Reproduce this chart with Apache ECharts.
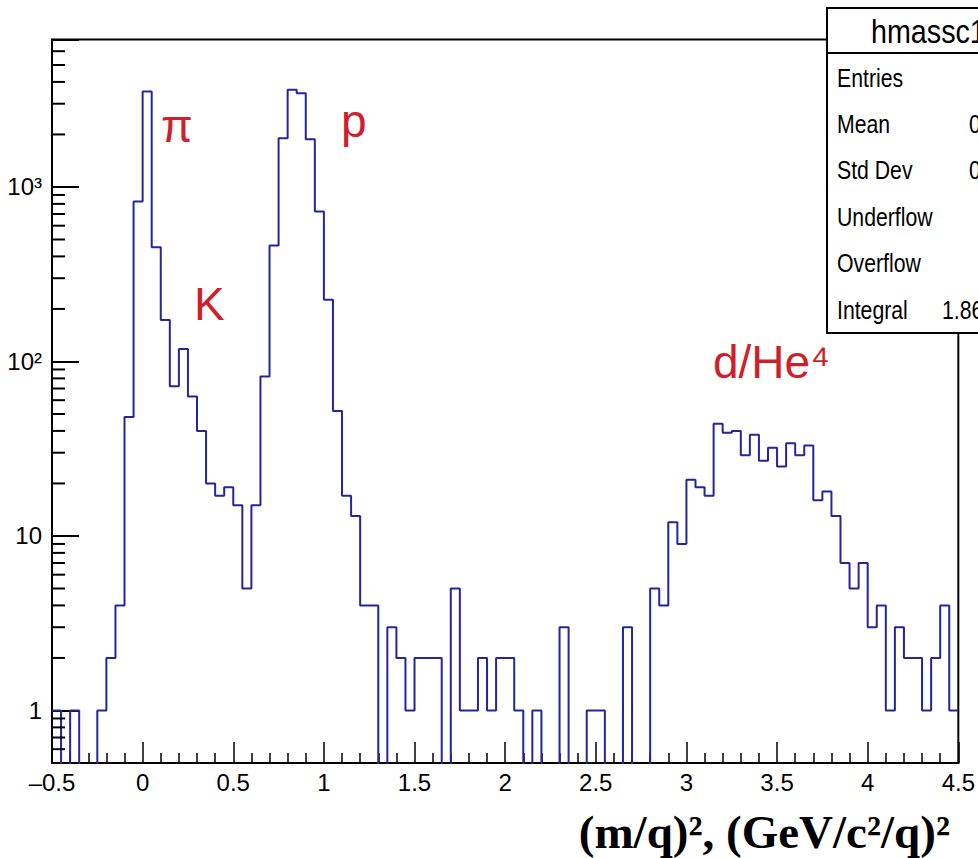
<!DOCTYPE html>
<html lang="en">
<head>
<meta charset="UTF-8">
<title>hmassc1 - (m/q)^2</title>
<style>
  html, body { margin: 0; padding: 0; background: #fff; }
  #chart { width: 978px; height: 858px; }
</style>
</head>
<body>
<div id="chart"></div>
<script src="https://cdn.jsdelivr.net/npm/echarts@6/dist/echarts.min.js"></script>
<script>
// histogram binning: 100 bins of 0.05 from -0.5 to 4.5
var binStart = -0.5;
var binWidth = 0.05;
// bin contents (log scale)
var counts = [
  1, 0, 1, 0, 0, 1, 2, 4, 48, 826,
  3524, 452, 173, 72, 118, 63, 40, 20, 17, 19,
  15, 5, 15, 82, 462, 1901, 3603, 3445, 1879, 724,
  226, 52, 17, 13, 4, 4, 0, 3, 2, 1,
  2, 2, 2, 0, 5, 1, 1, 2, 1, 2,
  2, 1, 0, 1, 0, 0, 3, 0, 0, 1,
  1, 0, 0, 3, 0, 0, 5, 4, 12, 9,
  21, 19, 17, 44, 39, 40, 29, 38, 27, 32,
  25, 34, 29, 33, 16, 18, 13, 7, 5, 7,
  3, 4, 1, 3, 2, 2, 1, 2, 4, 1
];
var yMajorLabels = { 1: '1', 10: '10', 100: '10\u00b2', 1000: '10\u00b3' };
var yMinorTicks = [0.6, 0.7, 0.8, 0.9, 2, 3, 4, 5, 6, 7, 8, 9,
  20, 30, 40, 50, 60, 70, 80, 90, 200, 300, 400, 500, 600, 700, 800, 900,
  2000, 3000, 4000, 5000, 6000];
var peakLabels = ['\u03c0', 'p', 'K', 'd/He\u2074'];
var statNames = ['Entries', 'Mean', 'Std Dev', 'Underflow', 'Overflow', 'Integral'];
var histName = 'hmassc1';
var integralText = '1.86e+04';
var xTitle = '(m/q)\u00b2, (GeV/c\u00b2/q)\u00b2';

var sans = "'Liberation Sans', Arial, sans-serif";
var red = '#d01f2b';

// step outline, empty bins pushed below the axis so they get clipped
var stepData = [];
var sum = 0, sumX = 0, sumX2 = 0;
for (var i = 0; i < counts.length; i++) {
  var x = binStart + i * binWidth;
  stepData.push([x, counts[i] > 0 ? counts[i] : 0.1]);
  var c = x + binWidth / 2;
  sum += counts[i]; sumX += counts[i] * c; sumX2 += counts[i] * c * c;
}
stepData.push([binStart + counts.length * binWidth, counts[counts.length - 1]]);
var mean = sumX / sum;
var stdDev = Math.sqrt(sumX2 / sum - mean * mean);
var statValues = ['', mean.toFixed(4), stdDev.toFixed(4), '', '', integralText];

var chart = echarts.init(document.getElementById('chart'), null, { renderer: 'svg' });

// stats box (ROOT style, narrow text)
var statsBox = [
  { type: 'rect', z: 100, shape: { x: 827, y: 8, width: 200, height: 325 },
    style: { fill: '#fff', stroke: '#000', lineWidth: 2 } },
  { type: 'line', z: 101, shape: { x1: 827, y1: 53, x2: 978, y2: 53 },
    style: { stroke: '#000', lineWidth: 2 } },
  { type: 'text', z: 101, x: 871, y: 32, scaleX: 0.87,
    style: { text: histName, fontFamily: sans, fontSize: 33, fill: '#000', verticalAlign: 'middle' } }
];
statNames.forEach(function (name, k) {
  statsBox.push({ type: 'text', z: 101, x: 837, y: 78 + k * 46.4, scaleX: 0.85,
    style: { text: name, fontFamily: sans, fontSize: 25, fill: '#000', verticalAlign: 'middle' } });
});
statValues.forEach(function (val, k) {
  if (!val) return;
  statsBox.push({ type: 'text', z: 101, x: k === 5 ? 942 : 969, y: 78 + k * 46.4, scaleX: 0.85,
    style: { text: val, fontFamily: sans, fontSize: 25, fill: '#000', verticalAlign: 'middle' } });
});

// particle labels
var labelPos = [[161, 126], [341, 121], [194, 304], [713, 362]];
var peakText = peakLabels.map(function (t, k) {
  return { type: 'text', z: 90, x: labelPos[k][0], y: labelPos[k][1],
    style: { text: t, fontFamily: sans, fontSize: 46, fill: red, verticalAlign: 'middle' } };
});

var option = {
  animation: false,
  backgroundColor: '#fff',
  grid: { left: 52, right: 15, top: 39.5, bottom: 95, show: true,
    borderColor: '#000', borderWidth: 2, backgroundColor: 'transparent' },
  xAxis: {
    type: 'value', min: -0.5, max: 4.5, interval: 0.5,
    axisLine: { onZero: false, lineStyle: { color: '#000', width: 2 } },
    axisTick: { inside: true, length: 21, lineStyle: { color: '#000', width: 1.5 } },
    minorTick: { show: true, splitNumber: 5, length: 10, lineStyle: { color: '#000', width: 1.5 } },
    splitLine: { show: false },
    axisLabel: {
      color: '#000', fontSize: 24, fontFamily: sans, margin: 7,
      formatter: function (v) { return String(Math.round(v * 10) / 10).replace('-', '\u2013'); }
    }
  },
  yAxis: {
    type: 'log', logBase: 10, min: 0.5, max: 7000,
    axisLine: { show: true, onZero: false, lineStyle: { color: '#000', width: 2 } },
    axisTick: { show: true, inside: true, length: 27, lineStyle: { color: '#000', width: 2 } },
    splitLine: { show: false },
    axisLabel: {
      color: '#000', fontSize: 24, fontFamily: sans, margin: 10, padding: [8, 0, 0, 0],
      formatter: function (v) {
        var e = Math.round(Math.log10(v));
        if (Math.abs(Math.log10(v) - e) > 1e-6) return '';
        return yMajorLabels[Math.pow(10, e)] || '';
      }
    }
  },
  series: [
    {
      type: 'line', step: 'end', data: stepData, showSymbol: false, symbol: 'none',
      lineStyle: { color: '#25259c', width: 2 }, clip: true, z: 3
    },
    {
      type: 'custom', silent: true, clip: false, z: 5,
      data: yMinorTicks.map(function (v) { return [binStart, v]; }),
      renderItem: function (params, api) {
        var p = api.coord([api.value(0), api.value(1)]);
        return { type: 'line', shape: { x1: p[0], y1: p[1], x2: p[0] + 13, y2: p[1] },
          style: { stroke: '#000', lineWidth: 2 } };
      }
    }
  ],
  graphic: statsBox.concat(peakText).concat([
    { type: 'text', z: 90, x: 950, y: 832,
      style: { text: xTitle, fontFamily: "'Liberation Serif', 'Times New Roman', serif",
        fontWeight: 'bold', fontSize: 47, fill: '#000', align: 'right', verticalAlign: 'middle' } }
  ])
};
chart.setOption(option);
</script>
</body>
</html>
